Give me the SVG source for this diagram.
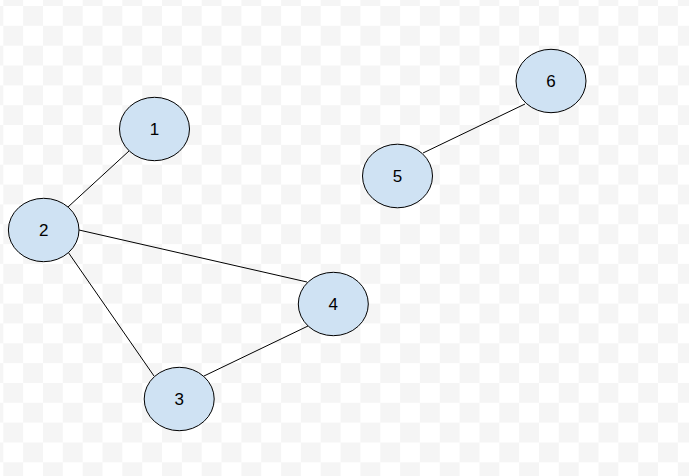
<svg xmlns="http://www.w3.org/2000/svg" width="689" height="476" viewBox="0 0 689 476">
<defs>
<pattern id="checker" patternUnits="userSpaceOnUse" x="3.3" y="6" width="39.68" height="39.68">
<rect width="39.68" height="39.68" fill="#ffffff"/>
<rect x="19.84" y="0" width="19.84" height="19.84" fill="#f5f5f5"/>
<rect x="0" y="19.84" width="19.84" height="19.84" fill="#f5f5f5"/>
</pattern>
</defs>
<style>
.node ellipse { fill: #cfe2f3; stroke: #000000; stroke-width: 1; }
.node text { font-family: "Liberation Sans", Arial, sans-serif; font-size: 17px; fill: #000000; text-anchor: middle; dominant-baseline: central; }
.edge { stroke: #000000; stroke-width: 1; fill: none; }
</style>
<rect width="689" height="476" fill="url(#checker)"/>
<g id="connectors">
<line class="edge" x1="68" y1="207" x2="129" y2="151"/>
<line class="edge" x1="79" y1="230" x2="307" y2="282"/>
<line class="edge" x1="68" y1="252" x2="154" y2="376"/>
<line class="edge" x1="204" y1="376" x2="308" y2="326"/>
<line class="edge" x1="423" y1="153" x2="525" y2="104"/>
</g>
<g id="node1" class="node"><ellipse cx="154.5" cy="129" rx="35" ry="31.7"/><text x="154.5" y="129">1</text></g>
<g id="node2" class="node"><ellipse cx="43.7" cy="230" rx="35.3" ry="31.7"/><text x="43.7" y="230">2</text></g>
<g id="node3" class="node"><ellipse cx="179.2" cy="399" rx="35" ry="31.7"/><text x="179.2" y="399">3</text></g>
<g id="node4" class="node"><ellipse cx="333.3" cy="304" rx="35" ry="31.7"/><text x="333.3" y="304">4</text></g>
<g id="node5" class="node"><ellipse cx="397.5" cy="176" rx="35" ry="31.8"/><text x="397.5" y="176">5</text></g>
<g id="node6" class="node"><ellipse cx="551" cy="81" rx="35" ry="31.7"/><text x="551" y="81">6</text></g>
</svg>
